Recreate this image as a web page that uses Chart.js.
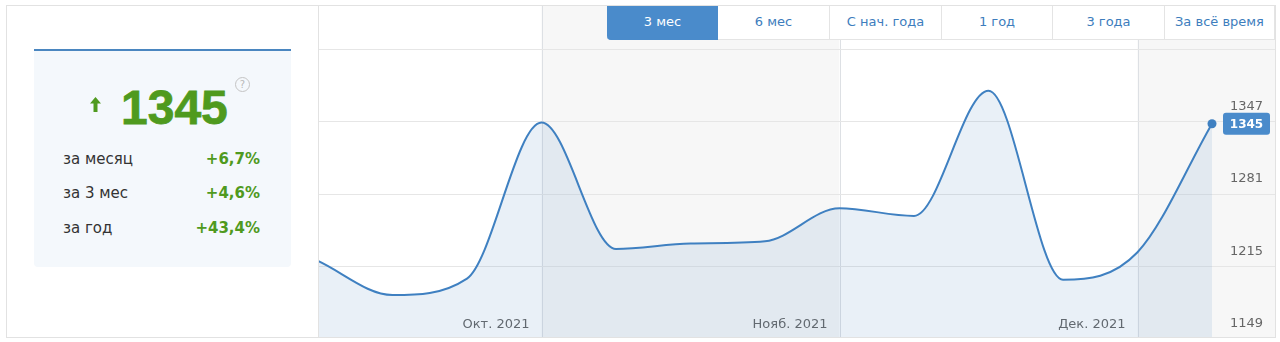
<!DOCTYPE html>
<html><head><meta charset="utf-8">
<script src="https://cdn.jsdelivr.net/npm/chart.js@4.4.1/dist/chart.umd.min.js"></script>
<style>
html,body{margin:0;padding:0}
body{width:1280px;height:342px;overflow:hidden;background:#fff;position:relative;font-family:"DejaVu Sans",Verdana,sans-serif}
.frame{position:absolute;left:6px;top:5px;width:1270px;height:333px;box-sizing:border-box;border:1px solid #e2e2e2;z-index:6;pointer-events:none}
.divider{position:absolute;left:318px;top:5px;width:1px;height:333px;background:#e2e2e2;z-index:6}
.card{position:absolute;left:34px;top:49px;width:257px;height:218px;box-sizing:border-box;background:#f4f8fc;border-top:2px solid #4a86c0;border-radius:0 0 4px 4px}
.big{position:absolute;left:121px;top:84px;font:bold 48px/48px "Liberation Sans",Arial,sans-serif;color:#4f9a1e;white-space:nowrap;-webkit-text-stroke:0.8px #4f9a1e}
.arrow{position:absolute;left:90px;top:97px}
.help{position:absolute;left:235px;top:77px;width:15px;height:15px;box-sizing:border-box;border:1px solid #c4c4c4;border-radius:50%;color:#b8b8b8;font:10px/13px "DejaVu Sans",sans-serif;text-align:center}
.row{position:absolute;left:63px;width:197px;height:20px;line-height:20px;font-size:15px;color:#333;display:flex;justify-content:space-between}
.row b{color:#4f9a1e;font-weight:bold}
.btn{position:absolute;top:5px;height:35px;box-sizing:border-box;border-right:1px solid #e4e4e4;border-bottom:1px solid #e4e4e4;background:#fff;color:#3d7dbd;font-size:13px;line-height:34px;text-align:center;z-index:5;white-space:nowrap}
.btn.active{background:#4a8bcb;color:#fff;border-color:#4a8bcb;border-radius:0 0 0 4px}
#wrap{position:absolute;left:318px;top:5px;width:957px;height:332px;overflow:hidden}
#box{position:relative;width:957px;height:334px}
</style></head><body>
<div class="frame"></div>
<div class="divider"></div>
<div class="card"></div>
<svg class="arrow" width="11" height="15" viewBox="0 0 11 15"><path d="M5.5 0 L11 6.5 L7.5 6.5 L7.5 15 L3.5 15 L3.5 6.5 L0 6.5 Z" fill="#4f9a1e"/></svg>
<div class="big">1345</div>
<div class="help">?</div>
<div class="row" style="top:149px"><span>за месяц</span><b>+6,7%</b></div>
<div class="row" style="top:183px"><span>за 3 мес</span><b>+4,6%</b></div>
<div class="row" style="top:218px"><span>за год</span><b>+43,4%</b></div>
<div id="btns"></div>
<div id="wrap"><div id="box"><canvas id="c"></canvas></div></div>
<script>
const categories = ['10.09.2021','17.09.2021','24.09.2021','01.10.2021','08.10.2021','15.10.2021','22.10.2021','29.10.2021','05.11.2021','12.11.2021','19.11.2021','26.11.2021','03.12.2021'];
const values = [1220, 1189, 1204, 1346, 1231, 1236, 1238, 1268, 1261, 1375, 1203, 1228, 1345];
const tickIndices = [3, 7, 11];
const tickLabels = ['Окт. 2021', 'Нояб. 2021', 'Дек. 2021'];
const yTicks = [1149, 1215, 1281, 1347, 1413];
const periods = ['3 мес', '6 мес', 'С нач. года', '1 год', '3 года', 'За всё время'];

const btnEdges = [607, 718, 830, 942, 1053, 1165, 1275];
const btns = document.getElementById('btns');
periods.forEach((p, i) => {
  const d = document.createElement('div');
  d.className = 'btn' + (i === 0 ? ' active' : '');
  d.style.left = btnEdges[i] + 'px';
  d.style.width = (btnEdges[i + 1] - btnEdges[i]) + 'px';
  if (i === 0) d.style.borderRight = 'none';
  d.textContent = p;
  btns.appendChild(d);
});

const bands = {
  id: 'bands',
  beforeDraw(chart) {
    const {ctx, width, height} = chart;
    const x = chart.scales.x;
    const xs = tickIndices.map(i => x.getPixelForValue(i));
    const edges = [0, ...xs, width];
    ctx.save();
    for (let i = 0; i < edges.length - 1; i++) {
      ctx.fillStyle = i % 2 ? '#f7f7f7' : '#ffffff';
      ctx.fillRect(edges[i], 0, edges[i + 1] - edges[i], height);
    }
    ctx.strokeStyle = '#dde0e4';
    ctx.lineWidth = 1;
    xs.forEach(px => {
      const p = Math.round(px) + 0.5;
      ctx.beginPath(); ctx.moveTo(p, 0); ctx.lineTo(p, height); ctx.stroke();
    });
    ctx.restore();
  }
};

const lastLabel = {
  id: 'lastLabel',
  afterDraw(chart) {
    const {ctx, chartArea} = chart;
    const y = chart.scales.y;
    const v = values[values.length - 1];
    const py = y.getPixelForValue(v);
    const x0 = chartArea.right + 11, w = 47, h = 22;
    ctx.save();
    ctx.fillStyle = '#4a8bcb';
    ctx.beginPath();
    ctx.roundRect(x0, py - h / 2, w, h, 3);
    ctx.fill();
    ctx.fillStyle = '#ffffff';
    ctx.font = 'bold 12px "DejaVu Sans"';
    ctx.textAlign = 'center';
    ctx.textBaseline = 'middle';
    ctx.fillText(String(v), x0 + w / 2, py + 1);
    ctx.restore();
  }
};

new Chart(document.getElementById('c'), {
  type: 'line',
  data: {
    labels: categories,
    datasets: [{
      data: values,
      borderColor: '#3f80c1',
      borderWidth: 2,
      fill: 'start',
      backgroundColor: 'rgba(74,134,192,0.12)',
      cubicInterpolationMode: 'monotone',
      pointRadius: c => c.dataIndex === values.length - 1 ? 4.5 : 0,
      pointBackgroundColor: '#3f80c1',
      pointBorderWidth: 0,
      pointHoverRadius: 0,
      clip: false
    }]
  },
  options: {
    responsive: true,
    maintainAspectRatio: false,
    animation: false,
    events: [],
    layout: {autoPadding: false, padding: {top: 44, left: 0, right: 0, bottom: 0}},
    plugins: {legend: {display: false}, tooltip: {enabled: false}},
    scales: {
      x: {
        grid: {display: false, drawTicks: false},
        border: {display: false},
        ticks: {
          autoSkip: false, maxRotation: 0, minRotation: 0,
          align: 'end', labelOffset: -12, padding: 7, mirror: true,
          color: '#666', font: {family: 'DejaVu Sans', size: 13},
          callback: (v, i) => { const k = tickIndices.indexOf(i); return k < 0 ? '' : tickLabels[k]; }
        },
        afterFit: s => { s.height = 0; s.paddingLeft = 0; s.paddingRight = 0; }
      },
      y: {
        position: 'right',
        min: yTicks[0],
        max: yTicks[yTicks.length - 1],
        afterBuildTicks: s => { s.ticks = yTicks.map(v => ({value: v})); },
        grid: {color: '#e6e6e6', drawTicks: true, tickLength: 63, tickColor: '#e6e6e6'},
        border: {display: false},
        ticks: {padding: -45, labelOffset: -15, color: '#666', font: {family: 'DejaVu Sans', size: 13},
          callback: v => String(v)},
        afterFit: s => { s.width = 63; s.paddingTop = 0; s.paddingBottom = 0; }
      }
    }
  },
  plugins: [bands, lastLabel]
});
</script>
</body></html>
